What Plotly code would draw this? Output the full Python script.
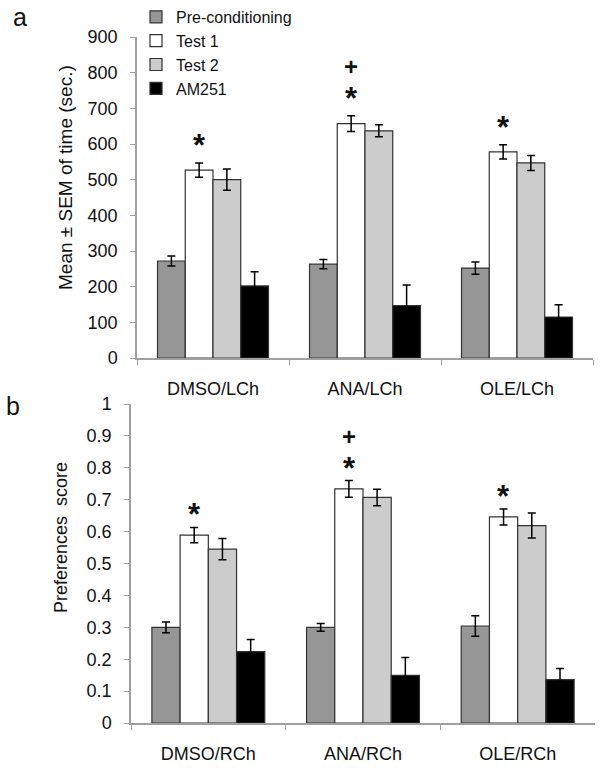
import plotly.graph_objects as go
from plotly.subplots import make_subplots

# ---------------- data ----------------
series_names = ["Pre-conditioning", "Test 1", "Test 2", "AM251"]

cats_a = ["DMSO/LCh", "ANA/LCh", "OLE/LCh"]
pre_a = [272, 263, 252]
pre_a_err = [14, 13, 17]
test1_a = [527, 657, 578]
test1_a_err = [20, 22, 20]
test2_a = [500, 637, 547]
test2_a_err = [30, 17, 21]
am_a = [202, 147, 115]
am_a_err = [40, 58, 34]

cats_b = ["DMSO/RCh", "ANA/RCh", "OLE/RCh"]
pre_b = [0.300, 0.300, 0.304]
pre_b_err = [0.017, 0.012, 0.032]
test1_b = [0.589, 0.734, 0.646]
test1_b_err = [0.024, 0.026, 0.025]
test2_b = [0.545, 0.707, 0.619]
test2_b_err = [0.033, 0.026, 0.039]
am_b = [0.224, 0.149, 0.136]
am_b_err = [0.038, 0.056, 0.035]

star_flags = [True, True, True]
plus_flags = [False, True, False]

ticks_a = [0, 100, 200, 300, 400, 500, 600, 700, 800, 900]
ticks_b = [0, 0.1, 0.2, 0.3, 0.4, 0.5, 0.6, 0.7, 0.8, 0.9, 1]
tick_text_b = ["0", "0.1", "0.2", "0.3", "0.4", "0.5", "0.6", "0.7", "0.8", "0.9", "1"]

# ---------------- style ----------------
FONT = "Liberation Sans, Arial, sans-serif"
colors = ["#969696", "#ffffff", "#cccccc", "#000000"]
W, H = 603, 768
BARGAP = 0.27

fig = make_subplots(rows=2, cols=1)

def add_panel(row, cats, vals, errs, showlegend):
    for name, v, e, c in zip(series_names, vals, errs, colors):
        fig.add_trace(go.Bar(
            name=name, x=cats, y=v,
            marker=dict(color=c, line=dict(color="#333333", width=1.2)),
            error_y=dict(type="data", array=e, visible=True, color="#000000",
                         thickness=1.5, width=4),
            showlegend=showlegend, legendgroup=name,
        ), row=row, col=1)

add_panel(1, cats_a, [pre_a, test1_a, test2_a, am_a],
          [pre_a_err, test1_a_err, test2_a_err, am_a_err], True)
add_panel(2, cats_b, [pre_b, test1_b, test2_b, am_b],
          [pre_b_err, test1_b_err, test2_b_err, am_b_err], False)

# significance markers above Test 1 bars (one text per bar)
STAR = '<span style="font-size:31px"><b>*</b></span>'
PLUS = '<span style="font-size:24px"><b>+</b></span>'
test1_offset = -(1 - BARGAP) / 8
annos = []
for xref, yref, vals, errs, sshift in [("x", "y", test1_a, test1_a_err, -2),
                                       ("x2", "y2", test1_b, test1_b_err, -7)]:
    for i, (v, e) in enumerate(zip(vals, errs)):
        parts = []
        if plus_flags[i]:
            parts.append(PLUS)
        if star_flags[i]:
            parts.append(STAR)
        if parts:
            annos.append(dict(x=i + test1_offset, y=v + e, xref=xref, yref=yref,
                              text="<br>".join(parts), showarrow=False,
                              yanchor="bottom", yshift=sshift,
                              font=dict(family=FONT, size=26, color="#111")))

# panel letters and axis titles
annos += [
    dict(x=20 / W, y=1 - 17 / H, xref="paper", yref="paper", text="a", showarrow=False,
         xanchor="center", yanchor="middle", font=dict(family=FONT, size=25, color="#111")),
    dict(x=13 / W, y=1 - 406 / H, xref="paper", yref="paper", text="b", showarrow=False,
         xanchor="center", yanchor="middle", font=dict(family=FONT, size=25, color="#111")),
    dict(x=65 / W, y=1 - 178 / H, xref="paper", yref="paper",
         text="Mean ± SEM of time (sec.)", textangle=-90, showarrow=False,
         xanchor="center", yanchor="middle", font=dict(family=FONT, size=19, color="#111")),
    dict(x=61 / W, y=1 - 538 / H, xref="paper", yref="paper",
         text="Preferences\u00a0 score", textangle=-90, showarrow=False,
         xanchor="center", yanchor="middle", font=dict(family=FONT, size=18, color="#111")),
]

axis_common = dict(showline=True, linecolor="#a0a0a0", linewidth=1.5,
                   ticks="outside", tickcolor="#a0a0a0", ticklen=5, tickwidth=1,
                   showgrid=False, zeroline=False, automargin=False,
                   tickfont=dict(family=FONT, size=18, color="#111"))

fig.update_layout(
    width=W, height=H, margin=dict(l=0, r=0, t=0, b=0, autoexpand=False),
    plot_bgcolor="white", paper_bgcolor="white",
    barmode="group", bargap=BARGAP, bargroupgap=0,
    font=dict(family=FONT, color="#111"),
    legend=dict(x=136 / W, y=1, xanchor="left", yanchor="top",
                font=dict(family=FONT, size=16, color="#111"),
                bgcolor="rgba(0,0,0,0)", itemwidth=30, tracegroupgap=0),
    annotations=annos,
    xaxis=dict(domain=[137 / W, 593 / W], anchor="y", tickson="boundaries", **axis_common),
    yaxis=dict(domain=[1 - 358 / H, 1 - 37 / H], anchor="x", range=[0, 900],
               tickvals=ticks_a, **axis_common),
    xaxis2=dict(domain=[131 / W, 595 / W], anchor="y2", tickson="boundaries", **axis_common),
    yaxis2=dict(domain=[1 - 723 / H, 1 - 404 / H], anchor="x2", range=[0, 1],
                tickvals=ticks_b, ticktext=tick_text_b, **axis_common),
)
fig.update_xaxes(ticklabelstandoff=14)
fig.update_yaxes(ticklabelstandoff=9)

fig.write_html("out.html", config={"displayModeBar": False},
               post_script="document.body.style.margin='0';document.body.style.overflow='hidden';")
